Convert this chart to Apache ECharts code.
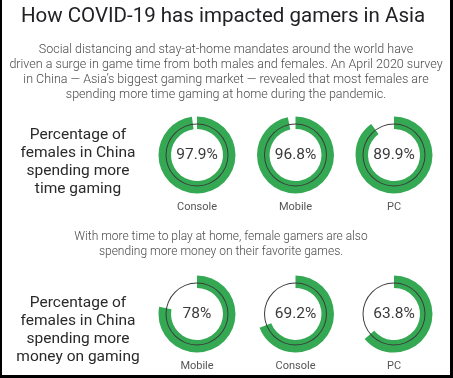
<!DOCTYPE html>
<html>
<head>
<meta charset="utf-8">
<script src="https://cdn.jsdelivr.net/npm/echarts@6/dist/echarts.min.js"></script>
<style>
html,body{margin:0;padding:0;background:#fff;}
#main{width:453px;height:378px;}
</style>
</head>
<body>
<div id="main"></div>
<script>
const titleText = 'How COVID-19 has impacted gamers in Asia';
const introLines = [
  'Social distancing and stay-at-home mandates around the world have',
  'driven a surge in game time from both males and females. An April 2020 survey',
  'in China \u2014 Asia\u2019s biggest gaming market \u2014 revealed that most females are',
  'spending more time gaming at home during the pandemic.'
];
const middleLines = [
  'With more time to play at home, female gamers are also',
  'spending more money on their favorite games.'
];
const timeHeading = 'Percentage of\nfemales in China\nspending more\ntime gaming';
const moneyHeading = 'Percentage of\nfemales in China\nspending more\nmoney on gaming';
const timeCategories = ['Console', 'Mobile', 'PC'];
const timeValues = [97.9, 96.8, 89.9];
const moneyCategories = ['Mobile', 'Console', 'PC'];
const moneyValues = [78, 69.2, 63.8];

const GREEN = '#34a853';
const FONT = 'Roboto, "Noto Sans", sans-serif';
const colX = [197, 295.5, 394];
const rowY = [155, 314];

const chart = echarts.init(document.getElementById('main'), null, {renderer: 'canvas'});

const series = [];
const graphics = [];

function addRow(cats, vals, cy) {
  cats.forEach((c, i) => {
    series.push({
      type: 'pie',
      center: [colX[i], cy],
      radius: [26, 38.5],
      startAngle: 90,
      clockwise: true,
      silent: true,
      z: 2,
      emphasis: {disabled: true, scale: false},
      labelLine: {show: false},
      data: [
        {value: vals[i], name: c, itemStyle: {color: GREEN},
         label: {show: true, position: 'center', formatter: '{c}%', fontFamily: FONT,
                 fontSize: 15.5, color: '#3a3a3a'}},
        {value: +(100 - vals[i]).toFixed(1), name: '', itemStyle: {color: 'rgba(0,0,0,0)'}, label: {show: false}}
      ]
    });
    series.push({
      type: 'pie',
      center: [colX[i], cy],
      radius: [30.5, 31.5],
      silent: true,
      z: 3,
      emphasis: {disabled: true, scale: false},
      label: {show: false},
      labelLine: {show: false},
      data: [{value: 1, itemStyle: {color: '#3c3c3c'}}]
    });
    graphics.push({
      type: 'text', x: colX[i], y: cy + 52,
      style: {text: c, fontFamily: FONT, fontSize: 11, fill: '#555', align: 'center', verticalAlign: 'middle'}
    });
  });
}
addRow(timeCategories, timeValues, rowY[0]);
addRow(moneyCategories, moneyValues, rowY[1]);

graphics.push({
  type: 'text', x: 223, y: 17,
  style: {text: titleText, fontFamily: FONT, fontSize: 20.5, fill: '#202124', align: 'center', verticalAlign: 'middle'}
});
introLines.forEach((t, i) => {
  graphics.push({
    type: 'text', x: 226, y: 50 + i * 15,
    style: {text: t, fontFamily: FONT, fontSize: 12.5, fontWeight: 300, fill: '#4a4a4a', align: 'center', verticalAlign: 'middle'}
  });
});
middleLines.forEach((t, i) => {
  graphics.push({
    type: 'text', x: 221, y: 237 + i * 15,
    style: {text: t, fontFamily: FONT, fontSize: 12, fontWeight: 300, fill: '#4a4a4a', align: 'center', verticalAlign: 'middle'}
  });
});
[[timeHeading, 162], [moneyHeading, 330]].forEach(([t, y]) => {
  graphics.push({
    type: 'text', x: 78, y: y,
    style: {text: t, fontFamily: FONT, fontSize: 15.5, lineHeight: 18, fill: '#2a2a2a', align: 'center', verticalAlign: 'middle'}
  });
});
// frame: left, right, bottom
graphics.push({type: 'rect', shape: {x: 0, y: 0, width: 2, height: 378}, style: {fill: '#000'}});
graphics.push({type: 'rect', shape: {x: 450, y: 0, width: 3, height: 378}, style: {fill: '#000'}});
graphics.push({type: 'rect', shape: {x: 0, y: 375, width: 453, height: 3}, style: {fill: '#000'}});

chart.setOption({
  backgroundColor: '#fff',
  animation: false,
  series: series,
  graphic: {elements: graphics}
});
</script>
</body>
</html>
